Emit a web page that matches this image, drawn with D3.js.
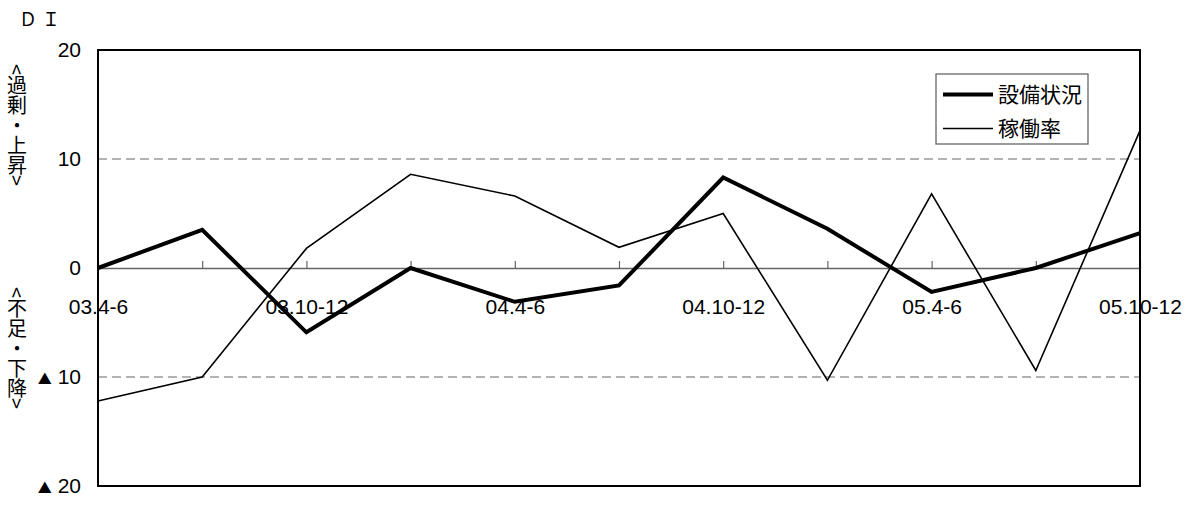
<!DOCTYPE html>
<html>
<head>
<meta charset="utf-8">
<script src="https://cdn.jsdelivr.net/npm/d3@7"></script>
<style>
  html, body { margin: 0; padding: 0; background: #fff; }
  svg { display: block; }
</style>
</head>
<body>
<svg id="chart" width="1199" height="528"></svg>
<script>
// ---- data ----
const categories = ["03.4-6","03.7-9","03.10-12","04.1-3","04.4-6","04.7-9","04.10-12","05.1-3","05.4-6","05.7-9","05.10-12"];
const xTickLabels = ["03.4-6","03.10-12","04.4-6","04.10-12","05.4-6","05.10-12"];
const seriesNames = ["設備状況","稼働率"];
const setsubiValues = [0, 3.5, -5.9, 0, -3.1, -1.6, 8.3, 3.6, -2.2, 0, 3.2];
const kadouValues = [-12.2, -10, 1.8, 8.6, 6.6, 1.9, 5.0, -10.3, 6.8, -9.4, 12.6];
const yTicks = [-20, -10, 0, 10, 20];
const yTickLabels = ["▲20", "▲10", "0", "10", "20"];
const yTitle = "ＤＩ";
const upperLabel = "<過剰・上昇>";
const lowerLabel = "<不足・下降>";

// ---- layout ----
const svg = d3.select("#chart");
const plot = { left: 98, right: 1140, top: 50, bottom: 486 };
const numFont = "'Liberation Sans', Arial, sans-serif";
const jpFont = "'Noto Sans CJK JP', sans-serif";

const x = d3.scalePoint().domain(categories).range([plot.left, plot.right]);
const y = d3.scaleLinear().domain([-20, 20]).range([plot.bottom, plot.top]);

// dashed grid at ±10
svg.append("g").selectAll("line")
  .data(yTicks.filter(v => v !== 0 && Math.abs(v) !== 20))
  .join("line")
  .attr("x1", plot.left).attr("x2", plot.right)
  .attr("y1", d => y(d)).attr("y2", d => y(d))
  .attr("stroke", "#666").attr("stroke-width", 1)
  .attr("stroke-dasharray", "9,5");

// x axis at zero
const xAxis = d3.axisBottom(x)
  .tickSizeInner(-7).tickSizeOuter(0).tickPadding(31)
  .tickFormat(d => xTickLabels.includes(d) ? d : "");
const gx = svg.append("g")
  .attr("transform", `translate(0,${y(0)})`)
  .call(xAxis);
gx.select(".domain").attr("stroke", "#666").attr("stroke-width", 1.5);
gx.selectAll(".tick line").attr("stroke", "#666").attr("stroke-width", 1.2);
gx.selectAll(".tick text")
  .attr("font-family", numFont).attr("font-size", 21).attr("fill", "#000");

// y axis
const yAxis = d3.axisLeft(y).tickValues(yTicks).tickSize(0).tickPadding(17)
  .tickFormat(d => yTickLabels[yTicks.indexOf(d)]);
const gy = svg.append("g").attr("transform", `translate(${plot.left},0)`).call(yAxis);
gy.select(".domain").remove();
gy.selectAll(".tick text").each(function(d) {
  const label = yTickLabels[yTicks.indexOf(d)];
  const t = d3.select(this).text(null)
    .attr("font-family", numFont).attr("font-size", 21).attr("fill", "#000");
  if (label.startsWith("▲")) {
    t.append("tspan").attr("font-size", 14).attr("font-family", jpFont)
      .attr("dx", 0).text("▲");
    t.append("tspan").attr("dx", 6).text(label.slice(1));
  } else {
    t.text(label);
  }
});

// plot border
svg.append("rect")
  .attr("x", plot.left).attr("y", plot.top)
  .attr("width", plot.right - plot.left).attr("height", plot.bottom - plot.top)
  .attr("fill", "none").attr("stroke", "#000").attr("stroke-width", 2);

// lines
const line = d3.line().x((d, i) => x(categories[i])).y(d => y(d));
svg.append("path").datum(kadouValues)
  .attr("d", line).attr("fill", "none")
  .attr("stroke", "#000").attr("stroke-width", 1.6).attr("stroke-linejoin", "miter");
svg.append("path").datum(setsubiValues)
  .attr("d", line).attr("fill", "none")
  .attr("stroke", "#000").attr("stroke-width", 4).attr("stroke-linejoin", "miter");

// legend
const lg = svg.append("g");
lg.append("rect").attr("x", 936).attr("y", 74).attr("width", 152).attr("height", 70)
  .attr("fill", "#fff").attr("stroke", "#666").attr("stroke-width", 1.3);
const legendRows = [
  { name: seriesNames[0], w: 4, cy: 94.5 },
  { name: seriesNames[1], w: 1.6, cy: 128.5 }
];
legendRows.forEach(r => {
  lg.append("line").attr("x1", 943).attr("x2", 993).attr("y1", r.cy).attr("y2", r.cy)
    .attr("stroke", "#000").attr("stroke-width", r.w);
  lg.append("text").attr("x", 998).attr("y", r.cy).attr("dy", "0.36em")
    .attr("font-family", jpFont).attr("font-size", 21).attr("fill", "#000")
    .text(r.name);
});

// titles
svg.append("text").attr("x", 19).attr("y", 26)
  .attr("font-family", jpFont).attr("font-size", 18).attr("letter-spacing", 5)
  .attr("fill", "#000").text(yTitle);

[[upperLabel, 64], [lowerLabel, 287]].forEach(([s, top]) => {
  svg.append("text").attr("x", 17).attr("y", top)
    .style("writing-mode", "vertical-rl").style("text-orientation", "mixed")
    .attr("font-family", jpFont).attr("font-size", 20).attr("fill", "#000")
    .text(s);
});
</script>
</body>
</html>
